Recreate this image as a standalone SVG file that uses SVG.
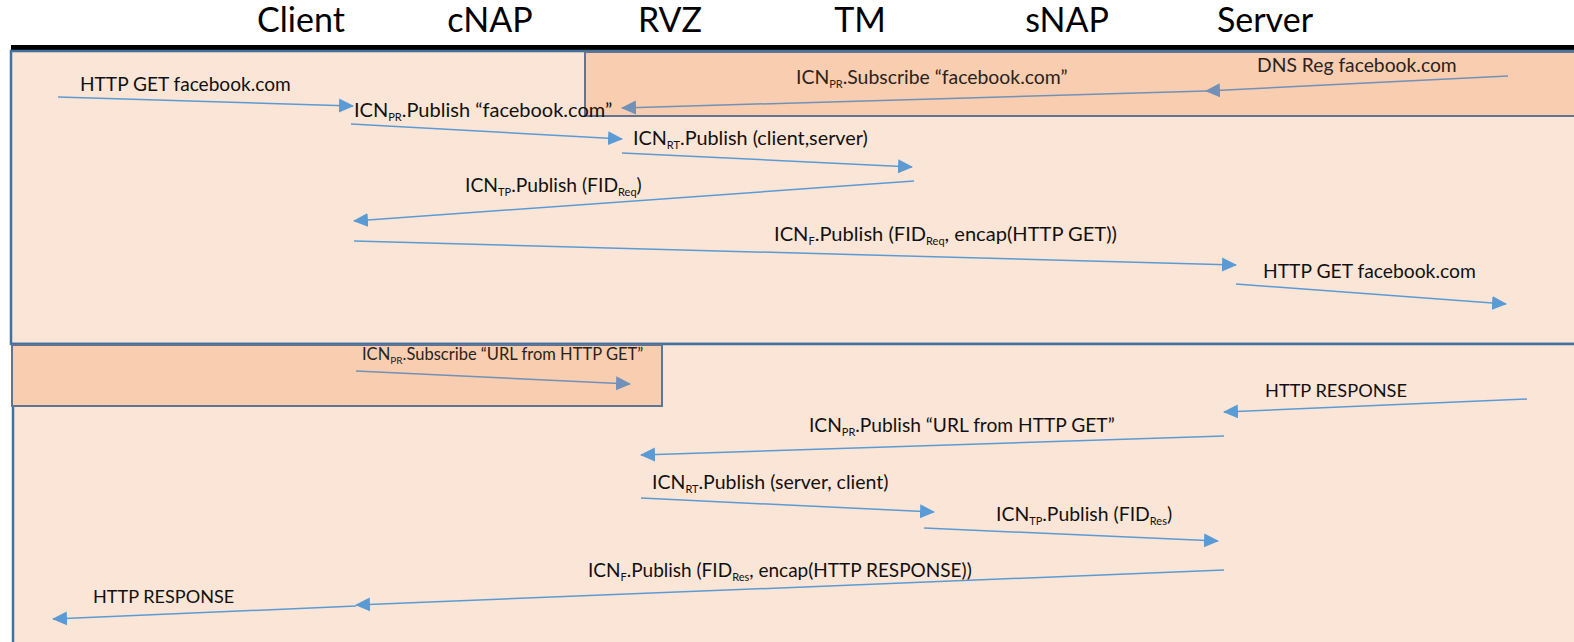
<svg xmlns="http://www.w3.org/2000/svg" width="1574" height="642" viewBox="0 0 1574 642">
<style>
.hdr{font-family:Lato,"Liberation Sans",sans-serif;font-size:34px;fill:#000;text-anchor:middle}
.lb{font-family:Lato,"Liberation Sans",sans-serif;font-size:19.5px;fill:#111}
.sm{font-family:Lato,"Liberation Sans",sans-serif;font-size:19.4px;fill:#2a2320}
.sub{font-size:11px}
.ar{stroke:#5b9bd5;stroke-width:1.5;fill:none;marker-end:url(#ah)}
.ar2{stroke:#7191b8;stroke-width:1.5;fill:none;marker-end:url(#ah2)}
</style>
<defs>
<marker id="ah" markerUnits="userSpaceOnUse" markerWidth="16" markerHeight="16" refX="14" refY="8" orient="auto"><path d="M0,1 L15,8 L0,15 z" fill="#5b9bd5"/></marker>
<marker id="ah2" markerUnits="userSpaceOnUse" markerWidth="16" markerHeight="16" refX="14" refY="8" orient="auto"><path d="M0,1 L15,8 L0,15 z" fill="#7191b8"/></marker>
</defs>
<rect width="1574" height="642" fill="#fff"/>
<g id="header">
<text class="hdr" x="301" y="32">Client</text>
<text class="hdr" x="490" y="32">cNAP</text>
<text class="hdr" x="670" y="32">RVZ</text>
<text class="hdr" x="860" y="32">TM</text>
<text class="hdr" x="1067" y="32">sNAP</text>
<text class="hdr" x="1265" y="32">Server</text>
<rect x="11" y="45" width="1563" height="5" fill="#000"/>
</g>
<g id="request-phase">
<rect x="11" y="51" width="1575" height="293" fill="#fbe5d6" stroke="#41719c" stroke-width="2.5"/>
</g>
<g id="response-phase">
<rect x="13" y="344" width="1575" height="310" fill="#fbe5d6" stroke="#41719c" stroke-width="2.5"/>
</g>
<g id="dns-subscribe">
<rect x="585" y="52" width="1000" height="64" fill="#f8cdb0" stroke="#5f7592" stroke-width="2"/>
</g>
<g id="url-subscribe">
<rect x="12" y="345" width="650" height="61" fill="#f8cdb0" stroke="#5f7592" stroke-width="2"/>
</g>
<g id="connectors">
<line class="ar" x1="58" y1="97" x2="353" y2="106"/>
<line class="ar" x1="351" y1="124" x2="622" y2="139"/>
<line class="ar" x1="622" y1="153" x2="912" y2="167"/>
<line class="ar" x1="914" y1="181" x2="354" y2="221"/>
<line class="ar" x1="354" y1="241" x2="1236" y2="265"/>
<line class="ar" x1="1236" y1="284" x2="1506" y2="304"/>
<line class="ar2" x1="1508" y1="76" x2="1206" y2="91"/>
<line class="ar2" x1="1206" y1="91" x2="622" y2="108"/>
<line class="ar2" x1="356" y1="371" x2="630" y2="384"/>
<line class="ar" x1="1527" y1="399" x2="1224" y2="412"/>
<line class="ar" x1="1224" y1="436" x2="641" y2="455"/>
<line class="ar" x1="641" y1="498" x2="934" y2="512"/>
<line class="ar" x1="924" y1="528" x2="1218" y2="541"/>
<line class="ar" x1="1224" y1="570" x2="356" y2="605"/>
<line class="ar" x1="356" y1="606" x2="53" y2="619"/>
</g>
<g id="labels">
<text class="lb" x="80" y="91" style="font-size:19.1px">HTTP GET facebook.com</text>
<text class="lb" x="354" y="117" style="font-size:20px">ICN<tspan class="sub" dy="4">PR</tspan><tspan dy="-4">.Publish “facebook.com”</tspan></text>
<text class="lb" x="633" y="145" style="font-size:19.8px">ICN<tspan class="sub" dy="4">RT</tspan><tspan dy="-4">.Publish (client,server)</tspan></text>
<text class="lb" x="465" y="192" style="font-size:19.3px">ICN<tspan class="sub" dy="4">TP</tspan><tspan dy="-4">.Publish (FID</tspan><tspan class="sub" dy="4">Req</tspan><tspan dy="-4">)</tspan></text>
<text class="lb" x="774" y="241" style="font-size:20.1px">ICN<tspan class="sub" dy="4">F</tspan><tspan dy="-4">.Publish (FID</tspan><tspan class="sub" dy="4">Req</tspan><tspan dy="-4">, encap(HTTP GET))</tspan></text>
<text class="lb" x="1263" y="278" style="font-size:19.3px">HTTP GET facebook.com</text>
<text class="sm" x="1257" y="72" style="font-size:19.3px">DNS Reg facebook.com</text>
<text class="sm" x="796" y="84" style="font-size:19.4px">ICN<tspan class="sub" dy="4">PR</tspan><tspan dy="-4">.Subscribe “facebook.com”</tspan></text>
<text class="sm" x="362" y="360" style="font-size:16.5px">ICN<tspan class="sub" dy="4" style="font-size:10px">PR</tspan><tspan dy="-4">.Subscribe “URL from HTTP GET”</tspan></text>
<text class="lb" x="1265" y="397" style="font-size:18.2px">HTTP RESPONSE</text>
<text class="lb" x="809" y="432" style="font-size:19.2px">ICN<tspan class="sub" dy="4">PR</tspan><tspan dy="-4">.Publish “URL from HTTP GET”</tspan></text>
<text class="lb" x="652" y="489">ICN<tspan class="sub" dy="4">RT</tspan><tspan dy="-4">.Publish (server, client)</tspan></text>
<text class="lb" x="996" y="521" style="font-size:19.4px">ICN<tspan class="sub" dy="4">TP</tspan><tspan dy="-4">.Publish (FID</tspan><tspan class="sub" dy="4">Res</tspan><tspan dy="-4">)</tspan></text>
<text class="lb" x="588" y="577" style="font-size:19px">ICN<tspan class="sub" dy="4">F</tspan><tspan dy="-4">.Publish (FID</tspan><tspan class="sub" dy="4">Res</tspan><tspan dy="-4">, encap(HTTP RESPONSE))</tspan></text>
<text class="lb" x="93" y="603" style="font-size:18.1px">HTTP RESPONSE</text>
</g>
</svg>
